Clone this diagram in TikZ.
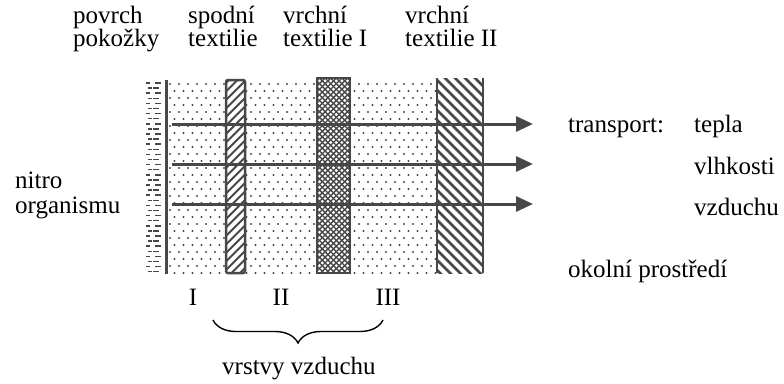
\documentclass[tikz,border=0pt]{standalone}
\usepackage{fontspec}
\setmainfont{Liberation Serif}
\newfontfamily\tnr{Liberation Serif}
\usetikzlibrary{arrows.meta,decorations.pathreplacing}
\definecolor{ink}{HTML}{474747}
\tikzset{
  lbl/.style={anchor=base west, inner sep=0pt, font=\tnr\fontsize{25}{30}\selectfont},
  lblc/.style={anchor=base, inner sep=0pt, font=\tnr\fontsize{25}{30}\selectfont},
  flow/.style={draw=ink, line width=3pt, -{Triangle[length=17pt,width=15pt]}},
  border/.style={draw=ink, line width=2.5pt},
  hatchline/.style={draw=ink, line width=2pt},
  crossline/.style={draw=ink, line width=1.4pt},
  bracestyle/.style={draw=black, line width=1.4pt, decorate,
    decoration={brace, mirror, amplitude=23pt}},
}
\begin{document}
\begin{tikzpicture}[x=1pt,y=-1pt]
\useasboundingbox (0,0) rectangle (784,383);

% dotted air layers
\begin{scope}
  \clip (166,81) rectangle (437,273);
  \foreach \r in {0,...,28} {
    \pgfmathsetmacro\yy{84+7*\r}
    \pgfmathsetmacro\off{mod(\r,2)*4.5}
    \foreach \c in {0,...,30} {
      \fill[ink] (170+\off+9*\c,\yy) circle (1.1pt);
    }
  }
\end{scope}

% skin dashes
\foreach \r in {0,...,37} {
  \pgfmathsetmacro\yy{83+5.1*\r}
  \pgfmathsetmacro\sh{mod(\r,2)*2}
  \draw[ink, line width=1.5pt] (146+\sh,\yy) -- (150+\sh,\yy);
  \draw[ink, line width=1.5pt] (155-\sh,\yy) -- (161-\sh,\yy);
}
\draw[ink, line width=3pt] (166,80) -- (166,274);

% lower textile
\fill[white] (226,80) rectangle (245,273);
\begin{scope}
  \clip (226,80) rectangle (245,273);
  \foreach \k in {0,...,28} {
    \draw[hatchline] (224,85+8.5*\k) -- (247,62+8.5*\k);
  }
\end{scope}
\draw[border, rounded corners=2pt] (226,80) rectangle (245,273);

% upper textile I
\fill[white] (317,78) rectangle (350,273);
\begin{scope}
  \clip (317,78) rectangle (350,273);
  \foreach \k in {0,...,45} {
    \draw[crossline] (315,40+5.6*\k) -- (352,77+5.6*\k);
    \draw[crossline] (315,77+5.6*\k) -- (352,40+5.6*\k);
  }
\end{scope}
\draw[border] (317,78) rectangle (350,273);

% upper textile II
\fill[white] (437,78) rectangle (483,273);
\begin{scope}
  \clip (437,78) rectangle (483,273);
  \foreach \k in {0,...,25} {
    \draw[hatchline, line width=2.5pt] (435,28+10*\k) -- (485,78+10*\k);
  }
\end{scope}
\draw[border] (437,78) -- (437,273);
\draw[border] (483,78) -- (483,273);

% transport arrows
\coordinate (a1s) at (172,124);
\coordinate (a1e) at (533,124);
\coordinate (a2s) at (172,164);
\coordinate (a2e) at (533,164);
\coordinate (a3s) at (172,204);
\coordinate (a3e) at (533,204);
\draw[flow] (a1s) -- (a1e);
\draw[flow] (a2s) -- (a2e);
\draw[flow] (a3s) -- (a3e);

% top labels
\node[lbl] (povrch) at (73,23) {povrch};
\node[lbl] (pokozky) at (73,46) {pokožky};
\node[lbl] (spodni) at (188,23) {spodní};
\node[lbl] (textilie) at (188,46) {textilie};
\node[lbl] (vrchni1) at (283,23) {vrchní};
\node[lbl] (textilie1) at (283,46) {textilie I};
\node[lbl] (vrchni2) at (405,23) {vrchní};
\node[lbl] (textilie2) at (405,46) {textilie II};

% left labels
\node[lbl] (nitro) at (15,188) {nitro};
\node[lbl] (organismu) at (15,213) {organismu};

% right labels
\node[lbl] (transport) at (568,132) {transport:};
\node[lbl] (tepla) at (694,132) {tepla};
\node[lbl] (vlhkosti) at (694,174) {vlhkosti};
\node[lbl] (vzduchu) at (694,215) {vzduchu};
\node[lbl] (okolni) at (568,277) {okolní prostředí};

% air layer numbers
\node[lblc] (rI) at (193,305) {I};
\node[lblc] (rII) at (281,305) {II};
\node[lblc] (rIII) at (388,305) {III};

% brace
\coordinate (b1) at (213,320);
\coordinate (b2) at (383,320);
\draw[bracestyle] (b1) -- (b2);
\node[lbl] (vrstvy) at (222,374) {vrstvy vzduchu};
\end{tikzpicture}
\end{document}
